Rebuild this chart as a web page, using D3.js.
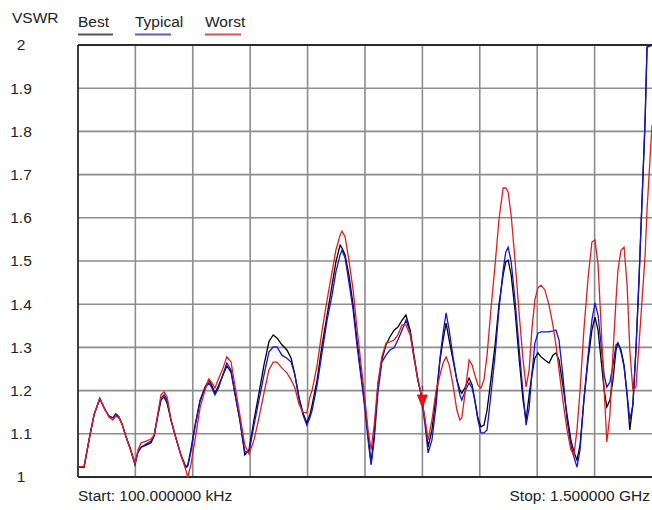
<!DOCTYPE html>
<html>
<head>
<meta charset="utf-8">
<script src="https://cdn.jsdelivr.net/npm/d3@7"></script>
<style>
  html, body { margin: 0; padding: 0; background: #fff; }
  svg { display: block; }
  text { font-family: "Liberation Sans", Arial, sans-serif; fill: #222; }
</style>
</head>
<body>
<svg id="chart" width="652" height="510"></svg>
<script>
// Frequencies in MHz (sweep from 100 kHz to 1.5 GHz)
const freqMHz = [0.1,16,29,42,57,71,81,91,99,107,115,125,136,149,157,165,178,191,199,209,217,225,233,243,256,269,282,287,295,306,319,332,342,350,358,368,379,389,400,410,423,436,447,460,473,486,499,510,520,533,546,557,567,578,588,598,606,612,625,638,651,664,674,685,690,698,708,719,729,740,750,758,766,774,784,794,805,815,826,836,847,857,868,878,888,896,907,915,925,936,946,954,962,970,980,990,998,1003,1011,1022,1030,1037,1045,1053,1061,1069,1079,1090,1100,1111,1118,1124,1132,1142,1152,1163,1171,1179,1186,1194,1202,1210,1220,1231,1241,1249,1257,1267,1278,1288,1296,1304,1312,1322,1333,1343,1351,1359,1367,1375,1382,1390,1398,1406,1411,1419,1427,1435,1442,1450,1458,1466,1474,1482,1487,1500];

const best = [1.023,1.023,1.086,1.144,1.181,1.155,1.141,1.137,1.146,1.139,1.123,1.095,1.067,1.032,1.058,1.069,1.074,1.079,1.095,1.144,1.178,1.185,1.171,1.132,1.090,1.051,1.023,1.028,1.063,1.120,1.178,1.208,1.225,1.211,1.194,1.213,1.236,1.257,1.243,1.194,1.132,1.051,1.063,1.132,1.194,1.259,1.313,1.329,1.322,1.306,1.294,1.275,1.236,1.183,1.148,1.125,1.144,1.167,1.225,1.306,1.375,1.444,1.498,1.537,1.530,1.514,1.468,1.398,1.317,1.236,1.167,1.097,1.032,1.097,1.213,1.271,1.306,1.324,1.340,1.347,1.363,1.375,1.340,1.282,1.225,1.194,1.132,1.069,1.109,1.190,1.271,1.317,1.356,1.317,1.271,1.225,1.201,1.194,1.206,1.229,1.213,1.178,1.137,1.116,1.120,1.155,1.225,1.306,1.398,1.468,1.498,1.502,1.468,1.387,1.282,1.178,1.132,1.190,1.236,1.275,1.287,1.278,1.271,1.264,1.282,1.287,1.271,1.213,1.144,1.086,1.058,1.039,1.074,1.178,1.271,1.340,1.370,1.340,1.271,1.201,1.162,1.178,1.225,1.294,1.310,1.294,1.259,1.190,1.109,1.167,1.294,1.456,1.641,1.826,1.995,2.000];

const typical = [1.023,1.023,1.086,1.144,1.181,1.155,1.141,1.137,1.146,1.139,1.123,1.095,1.067,1.028,1.058,1.069,1.076,1.083,1.095,1.144,1.183,1.190,1.178,1.132,1.090,1.051,1.021,1.025,1.058,1.116,1.174,1.206,1.218,1.206,1.190,1.208,1.238,1.264,1.248,1.194,1.132,1.058,1.058,1.120,1.178,1.236,1.289,1.301,1.301,1.282,1.275,1.266,1.236,1.178,1.144,1.120,1.137,1.155,1.213,1.289,1.363,1.421,1.475,1.514,1.525,1.507,1.451,1.387,1.306,1.229,1.155,1.086,1.028,1.086,1.197,1.266,1.282,1.294,1.299,1.317,1.340,1.363,1.336,1.275,1.225,1.194,1.120,1.056,1.086,1.167,1.275,1.333,1.380,1.340,1.278,1.225,1.190,1.178,1.197,1.218,1.206,1.178,1.132,1.102,1.102,1.109,1.190,1.282,1.387,1.479,1.521,1.532,1.498,1.410,1.306,1.194,1.120,1.160,1.236,1.310,1.333,1.336,1.336,1.336,1.338,1.340,1.317,1.236,1.132,1.074,1.046,1.023,1.063,1.178,1.282,1.363,1.403,1.375,1.306,1.236,1.208,1.220,1.259,1.306,1.310,1.289,1.255,1.190,1.132,1.167,1.294,1.456,1.641,1.826,1.995,2.000];

const worst = [1.023,1.025,1.086,1.144,1.183,1.155,1.139,1.132,1.141,1.137,1.123,1.095,1.067,1.032,1.063,1.079,1.083,1.088,1.097,1.148,1.190,1.197,1.185,1.132,1.090,1.051,1.016,1.000,1.028,1.086,1.160,1.201,1.227,1.218,1.206,1.229,1.252,1.278,1.266,1.213,1.144,1.074,1.053,1.086,1.137,1.194,1.248,1.266,1.266,1.252,1.241,1.225,1.206,1.167,1.150,1.148,1.185,1.201,1.259,1.340,1.410,1.475,1.525,1.560,1.569,1.556,1.502,1.433,1.345,1.259,1.178,1.109,1.063,1.120,1.220,1.278,1.310,1.313,1.317,1.329,1.352,1.352,1.329,1.278,1.229,1.194,1.132,1.086,1.132,1.201,1.236,1.264,1.278,1.259,1.213,1.155,1.132,1.137,1.190,1.271,1.259,1.236,1.213,1.206,1.225,1.282,1.387,1.491,1.595,1.669,1.669,1.660,1.606,1.502,1.387,1.271,1.208,1.248,1.340,1.410,1.438,1.444,1.433,1.398,1.352,1.306,1.248,1.178,1.109,1.063,1.051,1.109,1.201,1.340,1.461,1.544,1.549,1.491,1.352,1.201,1.081,1.144,1.287,1.410,1.479,1.525,1.532,1.444,1.294,1.201,1.208,1.306,1.410,1.514,1.618,1.815];

const yTicks = [1, 1.1, 1.2, 1.3, 1.4, 1.5, 1.6, 1.7, 1.8, 1.9, 2];
const yTickLabels = ["1", "1.1", "1.2", "1.3", "1.4", "1.5", "1.6", "1.7", "1.8", "1.9", "2"];
const xGridMHz = [150, 300, 450, 600, 750, 900, 1050, 1200, 1350];
const seriesNames = ["Best", "Typical", "Worst"];
const seriesColors = ["#000000", "#1414d2", "#e01e1e"];
const legendColors = ["#555555", "#5a5ad6", "#d85050"];
const markerFreq = 900;
const markerVSWR = 1.16;
const startLabel = "Start: 100.000000 kHz";
const stopLabel = "Stop: 1.500000 GHz";

(function () {
const svg = d3.select("#chart");
const pLeft = 78, pRight = 652, pTop = 45, pBottom = 477;
const x = d3.scaleLinear().domain([0.1, 1500]).range([pLeft, pRight]);
const y = d3.scaleLinear().domain([1, 2]).range([pBottom, pTop]);

// grid
const grid = svg.append("g");
grid.selectAll("line.v").data(xGridMHz).enter().append("line")
  .attr("x1", d => x(d)).attr("x2", d => x(d))
  .attr("y1", pTop).attr("y2", pBottom)
  .attr("stroke", "#8c8c8c").attr("stroke-width", 1.6);
grid.selectAll("line.h").data(yTicks.filter(d => d > 1 && d < 2)).enter().append("line")
  .attr("x1", pLeft).attr("x2", pRight)
  .attr("y1", d => y(d)).attr("y2", d => y(d))
  .attr("stroke", "#8c8c8c").attr("stroke-width", 1.6);

// frame
svg.append("line").attr("x1", pLeft).attr("x2", pRight).attr("y1", pTop).attr("y2", pTop)
  .attr("stroke", "#2a2a2a").attr("stroke-width", 1.8);
svg.append("line").attr("x1", pLeft).attr("x2", pRight).attr("y1", pBottom).attr("y2", pBottom)
  .attr("stroke", "#2a2a2a").attr("stroke-width", 1.8);
svg.append("line").attr("x1", pLeft).attr("x2", pLeft).attr("y1", pTop).attr("y2", pBottom)
  .attr("stroke", "#2a2a2a").attr("stroke-width", 1.8);

// y axis labels
const yAxis = d3.axisLeft(y).tickValues(yTicks)
  .tickFormat((d, i) => yTickLabels[i]).tickSize(0).tickPadding(0);
const yg = svg.append("g").attr("transform", "translate(21,0)").call(yAxis);
yg.select(".domain").remove();
yg.selectAll("text").attr("text-anchor", "middle")
  .style("font-family", "'Liberation Sans', Arial, sans-serif")
  .style("font-size", "15.5px").style("fill", "#222");

// clip
svg.append("clipPath").attr("id", "plotclip").append("rect")
  .attr("x", pLeft).attr("y", pTop - 1).attr("width", pRight - pLeft).attr("height", pBottom - pTop + 2);

const line = d3.line().x(d => x(d[0])).y(d => y(d[1])).curve(d3.curveLinear);
const allSeries = [best, typical, worst];
const drawOrder = [0, 1, 2];
const lines = svg.append("g").attr("clip-path", "url(#plotclip)");
drawOrder.forEach(i => {
  lines.append("path")
    .datum(freqMHz.map((f, k) => [f, allSeries[i][k]]))
    .attr("fill", "none")
    .attr("stroke", seriesColors[i])
    .attr("stroke-width", 1.3)
    .attr("stroke-linejoin", "miter")
    .attr("d", line);
});

// marker
const mx = x(markerFreq), my = y(markerVSWR);
svg.append("path")
  .attr("d", `M${mx - 5},${my - 13} L${mx + 5},${my - 13} L${mx},${my} Z`)
  .attr("fill", "#ee1111").attr("stroke", "#aa0000").attr("stroke-width", 0.6);
svg.append("text").attr("x", mx).attr("y", my - 17).attr("text-anchor", "middle")
  .style("font-size", "8px").style("fill", "#333").text("1");

// title / legend
svg.append("text").attr("x", 12).attr("y", 23).style("font-size", "15.5px").text("VSWR");
const legendX = [78, 135, 205];
const legendLineW = [35, 36, 36];
seriesNames.forEach((n, i) => {
  svg.append("text").attr("x", legendX[i]).attr("y", 27).style("font-size", "15.5px").text(n);
  svg.append("line").attr("x1", legendX[i]).attr("x2", legendX[i] + legendLineW[i])
    .attr("y1", 34.5).attr("y2", 34.5)
    .attr("stroke", legendColors[i]).attr("stroke-width", 2);
});

// bottom labels
svg.append("text").attr("x", 78).attr("y", 501).style("font-size", "15.5px").text(startLabel);
svg.append("text").attr("x", 650).attr("y", 501).attr("text-anchor", "end")
  .style("font-size", "15.5px").text(stopLabel);
})();
</script>
</body>
</html>
